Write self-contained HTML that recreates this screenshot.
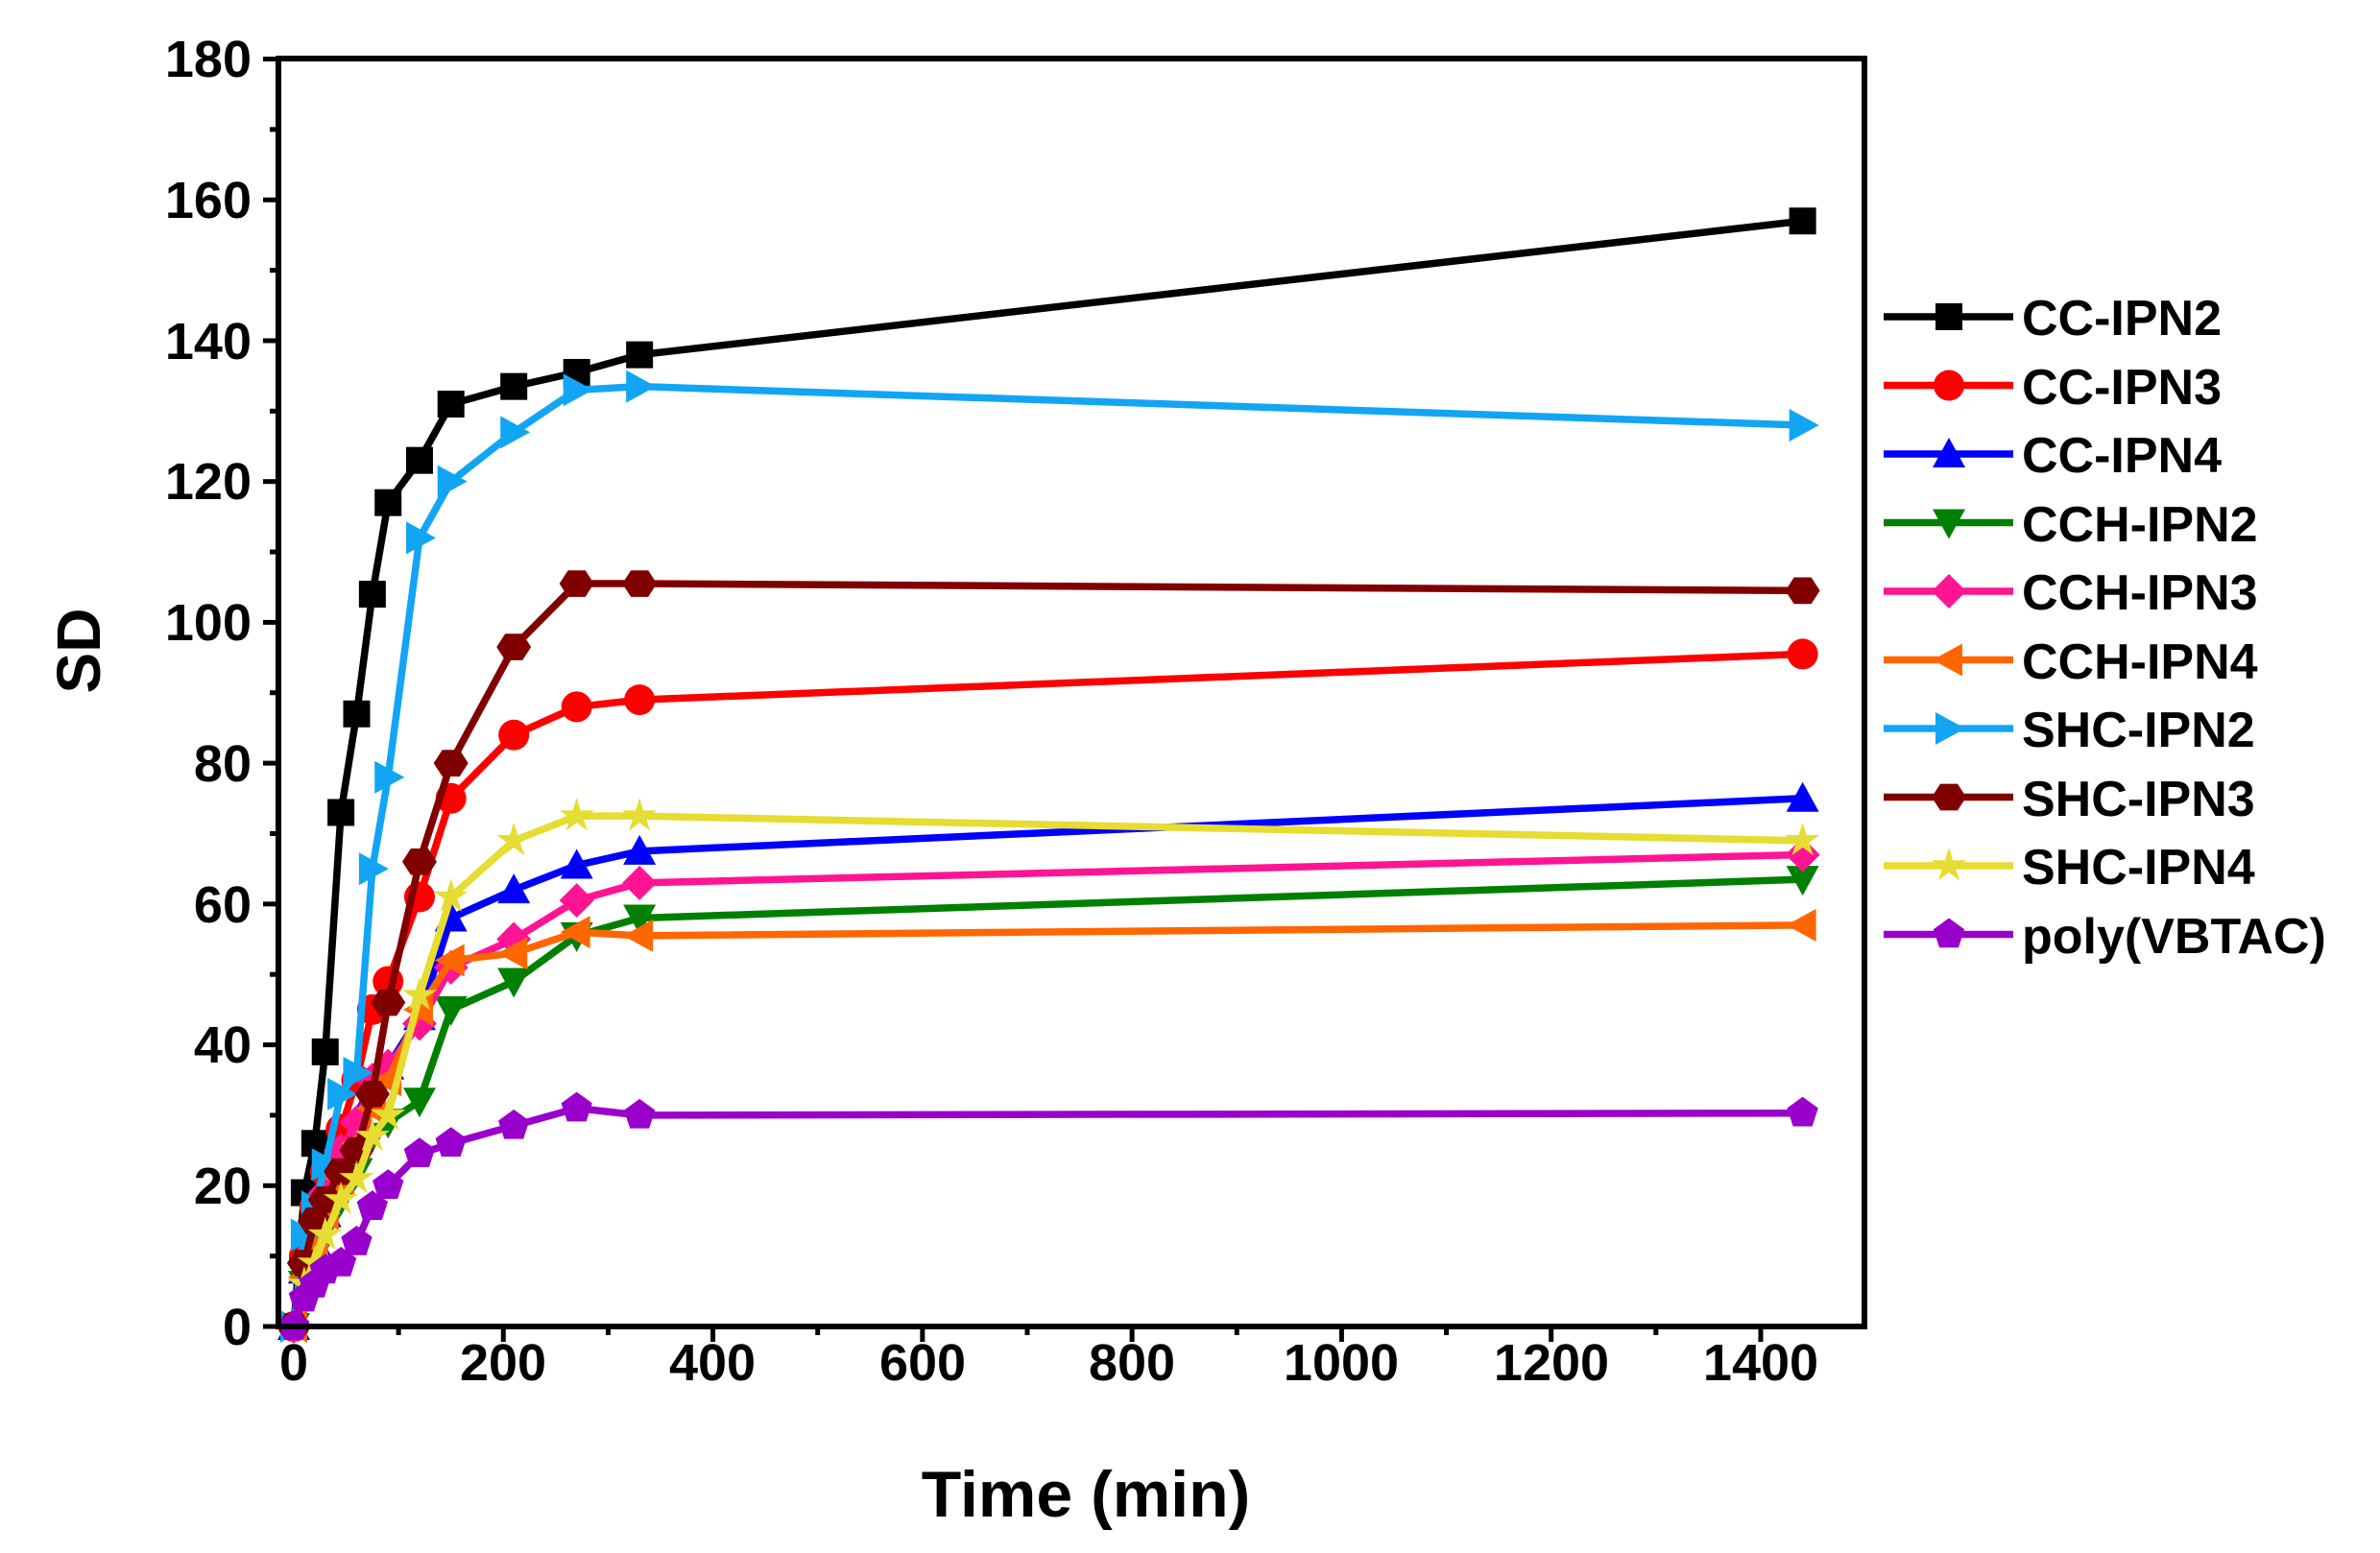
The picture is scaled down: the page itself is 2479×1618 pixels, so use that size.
<!DOCTYPE html>
<html><head><meta charset="utf-8"><style>
html,body{margin:0;padding:0;background:#fff;}
svg{display:block;}
text{font-family:"Liberation Sans",Arial,sans-serif;font-weight:bold;fill:#000;}
</style></head><body>
<svg id="s" width="2479" height="1618" viewBox="0 0 2479 1618" xmlns="http://www.w3.org/2000/svg">
<rect width="2479" height="1618" fill="#fff"/>
<g id="ticks"></g>
<g id="series"></g>
<rect x="290" y="61" width="1652" height="1321" fill="none" stroke="#000" stroke-width="6"/>
<g font-size="54" text-anchor="end">
<text x="262" y="1401">0</text><text x="262" y="1254">20</text><text x="262" y="1107">40</text>
<text x="262" y="961">60</text><text x="262" y="814">80</text><text x="262" y="667">100</text>
<text x="262" y="520">120</text><text x="262" y="374">140</text><text x="262" y="227">160</text>
<text x="262" y="80">180</text>
</g>
<g font-size="54" text-anchor="middle">
<text x="306" y="1438">0</text><text x="524" y="1438">200</text><text x="742" y="1438">400</text>
<text x="961" y="1438">600</text><text x="1179" y="1438">800</text><text x="1397" y="1438">1000</text>
<text x="1616" y="1438">1200</text><text x="1834" y="1438">1400</text>
</g>
<text x="1131" y="1580" font-size="68" text-anchor="middle">Time (min)</text>
<text x="0" y="0" font-size="64" text-anchor="middle" transform="translate(104,678) rotate(-90)">SD</text>
<g id="legend" font-size="52">
<text x="2106" y="349">CC-IPN2</text><text x="2106" y="421">CC-IPN3</text><text x="2106" y="492">CC-IPN4</text>
<text x="2106" y="564">CCH-IPN2</text><text x="2106" y="635">CCH-IPN3</text><text x="2106" y="707">CCH-IPN4</text>
<text x="2106" y="778">SHC-IPN2</text><text x="2106" y="850">SHC-IPN3</text><text x="2106" y="921">SHC-IPN4</text>
<text x="2106" y="993">poly(VBTAC)</text>
</g>
</svg>
<script>
const NS="http://www.w3.org/2000/svg";
const X=t=>306+t*1.0914, Y=v=>1382-v*7.336;
function el(n,a,p){const e=document.createElementNS(NS,n);for(const k in a)e.setAttribute(k,a[k]);p.appendChild(e);return e;}
const tk=document.getElementById('ticks');
for(let v=0;v<=180;v+=10){const L=v%20?9:16;el('line',{x1:290-L,x2:290,y1:Y(v),y2:Y(v),stroke:'#000','stroke-width':5},tk);}
for(let t=0;t<=1400;t+=100){const L=t%200?9:16;el('line',{x1:X(t),x2:X(t),y1:1382,y2:1382+L,stroke:'#000','stroke-width':5},tk);}
const T=[0,10,20,30,45,60,75,90,120,150,210,270,330,1440];
const S=[
['#000','sq',[0,19,26,39,73,87,104,117,123,131,133.5,135.5,138,157]],
['#ff0000','ci',[0,10,17,22,28,35,45,49,61,75,84,88,89,95.5]],
['#0000ff','tu',[0,8,12,16,22,27,33,37,44,58,62,65.5,67.5,75]],
['#008000','td',[0,6,10,14,18,22,27,29,32,45,49,55.5,58,63.5]],
['#ff1493','di',[0,9,14,19,25,29,35,37,43,51,55,60.5,63,67]],
['#ff6600','tl',[0,7,11,16,21,26,31,35,45,52,53,56,55.5,57]],
['#12a5f4','tr',[0,13,17,23,33,36,65,78,112,120,127,133,133.5,128]],
['#800000','hx',[0,9,15,18,22,25,33,46,66,80,96.5,105.5,105.5,104.5]],
['#e6dc32','st',[0,6,9,13,18,21,27,30,47,61,69,72.5,72.5,69]],
['#9900cc','pe',[0,4,6,8,9,12,17,20,24.5,26,28.5,31,30,30.3]]
];
function marker(type,x,y,c,g){const r=14;let d;
switch(type){
case'sq':return el('rect',{x:x-r,y:y-r,width:2*r,height:2*r,fill:c},g);
case'ci':return el('circle',{cx:x,cy:y,r:r+2,fill:c},g);
case'tu':d=`M${x},${y-r-3}L${x+r+3},${y+r}L${x-r-3},${y+r}Z`;break;
case'td':d=`M${x},${y+r+3}L${x+r+3},${y-r}L${x-r-3},${y-r}Z`;break;
case'tl':d=`M${x-r-3},${y}L${x+r},${y-r-3}L${x+r},${y+r+3}Z`;break;
case'tr':d=`M${x+r+3},${y}L${x-r},${y-r-3}L${x-r},${y+r+3}Z`;break;
case'di':d=`M${x},${y-r-4}L${x+r+4},${y}L${x},${y+r+4}L${x-r-4},${y}Z`;break;
case'hx':{let p=[];for(let i=0;i<6;i++){const a=Math.PI/3*i;p.push((x+(r+4)*Math.cos(a))+','+(y+(r+2)*Math.sin(a)));}d='M'+p.join('L')+'Z';break;}
case'pe':{let p=[];for(let i=0;i<5;i++){const a=-Math.PI/2+2*Math.PI/5*i;p.push((x+(r+3)*Math.cos(a))+','+(y+(r+3)*Math.sin(a)));}d='M'+p.join('L')+'Z';break;}
case'st':{let p=[];for(let i=0;i<10;i++){const a=-Math.PI/2+Math.PI/5*i,R=i%2?7:r+5;p.push((x+R*Math.cos(a))+','+(y+R*Math.sin(a)));}d='M'+p.join('L')+'Z';break;}
}
return el('path',{d:d,fill:c},g);}
const sg=document.getElementById('series');
S.forEach((s,i)=>{
 const pts=T.map((t,j)=>X(t)+','+Y(s[2][j])).join(' ');
 el('polyline',{points:pts,fill:'none',stroke:s[0],'stroke-width':7.5,'stroke-linejoin':'round'},sg);
 T.forEach((t,j)=>marker(s[1],X(t),Y(s[2][j]),s[0],sg));
 const ly=330+71.5*i;
 el('line',{x1:1962,x2:2097,y1:ly,y2:ly,stroke:s[0],'stroke-width':7.5},sg);
 marker(s[1],2030,ly,s[0],sg);
});
</script>
</body></html>
